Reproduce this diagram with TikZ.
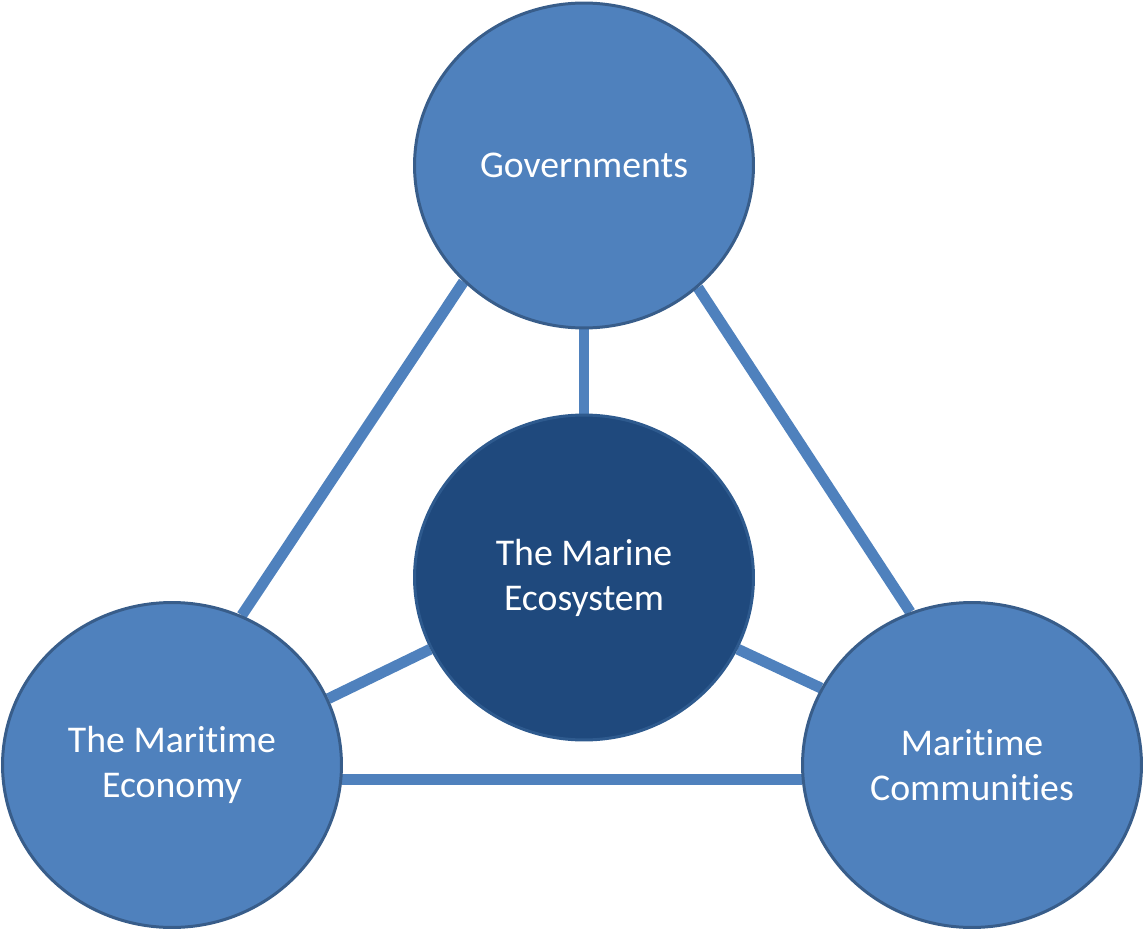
\documentclass[tikz,border=0pt]{standalone}
\usepackage{fontspec}
\setmainfont{Carlito}[Ligatures={NoCommon}]
\usetikzlibrary{positioning,shapes.geometric}
\definecolor{ringblue}{HTML}{4F81BD}
\definecolor{ringedge}{HTML}{385D8A}
\definecolor{coreblue}{HTML}{1F497D}
\definecolor{coreedge}{HTML}{2E5A8E}
\pgfdeclarelayer{back}
\pgfsetlayers{back,main}
\tikzset{
  actor/.style={ellipse, fill=ringblue, draw=ringedge, line width=1.7pt,
    minimum width=6.78cm, minimum height=6.5cm, inner sep=0pt, text=white, align=center,
    font=\fontsize{21.5}{25.6}\selectfont},
  core/.style={actor, fill=coreblue, draw=coreedge},
  link/.style={ringblue, line width=6.2pt}
}
\begin{document}
\begin{tikzpicture}[x=0.02cm,y=0.02cm]
\useasboundingbox (0,0) rectangle (1143,931);
\node[core] (sea) at (584,353.5) {The Marine\\Ecosystem};
\node[actor] (gov) at (584,765.5) {Governments};
\node[actor] (econ) at (172,166) {The Maritime\\Economy};
\node[actor] (comm) at (972,166) {Maritime\\Communities};
% links behind the circles
\begin{pgfonlayer}{back}
\path[link]
  (gov.224) edge (econ.65)
  (gov.313) edge (comm.112)
  (gov.270) edge (sea.90)
  (sea.205) edge (econ.23)
  (sea.335) edge (comm.153)
  (econ.355) edge (comm.185);
\end{pgfonlayer}
\end{tikzpicture}
\end{document}
